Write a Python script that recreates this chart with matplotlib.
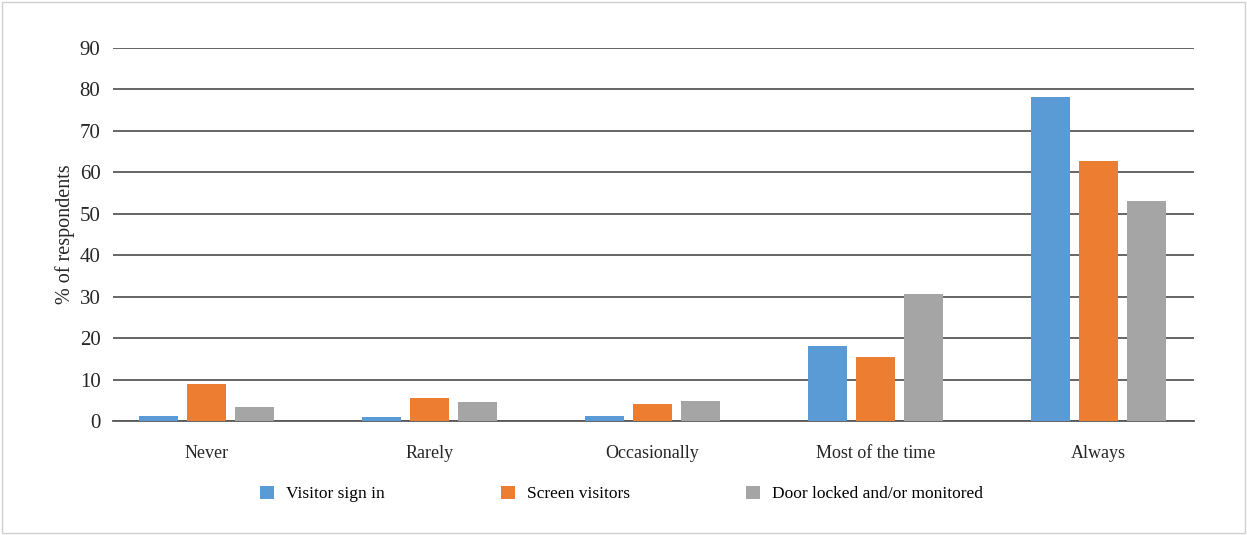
import numpy as np
import matplotlib
matplotlib.use("Agg")
import matplotlib.pyplot as plt
from matplotlib.patches import Rectangle

# Data
categories = ["Never", "Rarely", "Occasionally", "Most of the time", "Always"]
series_names = ["Visitor sign in", "Screen visitors", "Door locked and/or monitored"]
visitor_sign_in = [1.2, 1.0, 1.2, 18.1, 78.2]
screen_visitors = [8.9, 5.5, 4.1, 15.4, 62.7]
door_locked = [3.4, 4.6, 4.8, 30.6, 53.1]
colors = ["#5B9BD5", "#ED7D31", "#A5A5A5"]

plt.rcParams["font.family"] = ["Liberation Serif", "DejaVu Serif"]

fig = plt.figure(figsize=(12.47, 5.35), dpi=100)
ax = fig.add_axes([113 / 1247, 1 - 421 / 535, 1081 / 1247, 373 / 535])

x = np.arange(len(categories))
width = 0.175
step = 0.215
for i, (vals, name) in enumerate(zip([visitor_sign_in, screen_visitors, door_locked], series_names)):
    ax.bar(x + (i - 1) * step, vals, width, color=colors[i], label=name, zorder=3)

ax.set_xlim(-0.42, 4.43)
ax.set_ylim(0, 90)
ax.set_yticks(range(0, 91, 10))
ax.yaxis.grid(True, color="#595959", linewidth=1.3, zorder=0)
ax.set_axisbelow(True)
for s in ["top", "right", "left"]:
    ax.spines[s].set_visible(False)
ax.spines["bottom"].set_color("#595959")
ax.spines["bottom"].set_linewidth(1.3)
ax.tick_params(axis="both", length=0, colors="#262626")
ax.tick_params(axis="y", pad=9, labelsize=15)
ax.tick_params(axis="x", pad=17, labelsize=13)
ax.set_xticks(x)
ax.set_xticklabels(categories)
ax.set_ylabel("% of respondents", fontsize=14.5, color="#262626", labelpad=3)

fig.legend(loc="center", bbox_to_anchor=(0.4985, 1 - 494 / 535), ncol=3, frameon=False,
           fontsize=12.5, handlelength=0.8, handleheight=0.8, columnspacing=6.7,
           handletextpad=0.7)

# light frame around the figure
fig.patches.append(Rectangle((0.002, 0.003), 0.996, 0.994, transform=fig.transFigure,
                             fill=False, edgecolor="#D0D0D0", linewidth=1))

fig.savefig("out.png", dpi=100)
